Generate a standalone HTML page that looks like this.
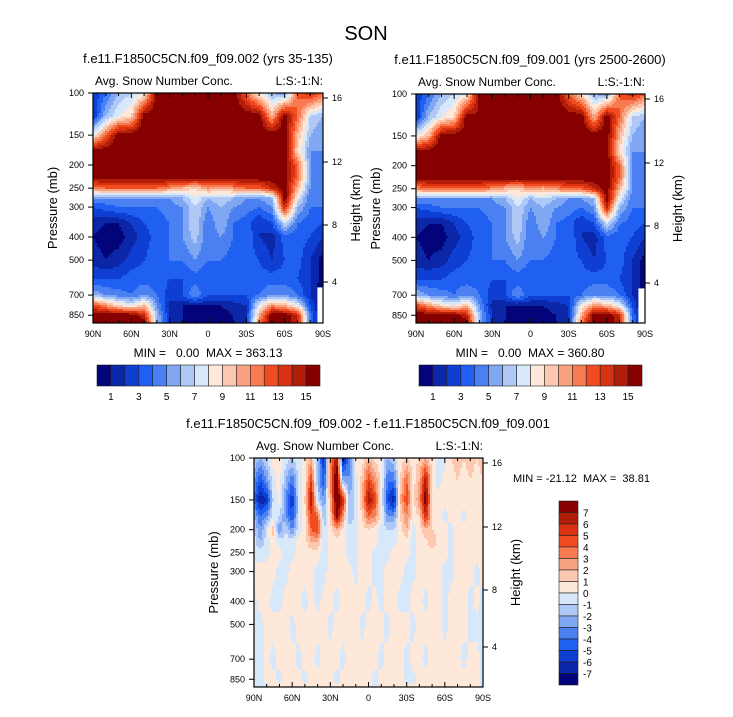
<!DOCTYPE html>
<html><head><meta charset="utf-8"><style>
body{margin:0;background:#fff;}
svg text{font-family:"Liberation Sans",Arial,sans-serif;fill:#000;white-space:pre;}
</style></head><body>
<svg id="s" width="733" height="712" xmlns="http://www.w3.org/2000/svg">
<rect width="733" height="712" fill="#fff"/>
<text x="366" y="40" font-size="20" text-anchor="middle">SON</text>
</svg>
<script>
// ---------- data ----------
const palette = ["#03037a","#0b26a6","#0f3fd2","#1f5ff2","#4a80f2","#80a8f2","#b0c8f6","#d8e8fb","#fde8d9","#fcc9b0","#f9a27f","#f87a50","#f04c20","#d93212","#b01e08","#870000"];
const latLabels = ["90N","60N","30N","0","30S","60S","90S"];
const pTicks = [100,150,200,250,300,400,500,700,850];
const hTicks = ["16","12","8","4"];
const hTickOffsets = [5,69,132,189];
const cbTopLabels = ["1","3","5","7","9","11","13","15"];
const cbDiffLabels = ["7","6","5","4","3","2","1","0","-1","-2","-3","-4","-5","-6","-7"];

const levels1 = [100,125,150,175,200,225,250,275,300,350,400,500,600,700,775,850,925];
const field1 = [
[2,4,6,7,8,16,16,16,16,16,16,16,12,8,6,5,12,14,12],
[2,6,8,9,16,16,16,16,16,16,16,16,16,16,10,16,12,7,6],
[8,12,16,16,16,16,16,16,16,16,16,16,16,16,16,16,10,6,5],
[16,16,16,16,16,16,16,16,16,16,16,16,16,16,16,16,9,5,5],
[16,16,16,16,16,16,16,16,16,16,16,16,16,16,16,16,12,5,4],
[16,16,16,16,16,16,16,16,16,16,16,16,16,16,16,16,12,5,4],
[11,12,12,12,12,12,11,10,9,11,10,11,12,12,14,16,10,5,4],
[5,5,5,5,5,5,5,6,8,6,7,6,5,5,6,16,8,4,4],
[3,3.5,4,4,4,4,4.5,5,7,5,6,5,4.5,4,5,14,6,4,4],
[1.5,1,1,2,3,3.5,4,5,7,4,6,4,3.5,2,3,7,4,3.5,3],
[1,0.5,0.5,1.5,2.5,3.5,4,5,6.5,4,5,4,4,2,1.5,3.5,3.5,3,2],
[1.5,1,1.5,2.5,3,3.5,4,4,5,4,4,3.5,3.5,3,2,3,3.5,2,0.5],
[3,3,3,3.5,3.5,3.5,3,3,3.5,3,3.5,3.5,3.5,3.5,3.5,3.5,3,2,0.5],
[6,5,4.5,4,5,4,2.5,3,5,3,3,3,3,4,5,5,4,2,-9],
[13,11,9,8,10,5,1.5,1,1,1,1,1.5,2,8,11,10,8,3,-9],
[16,16,16,16,14,6,2,1,0.5,0.5,0.5,1,2,10,16,16,14,4,-9],
[16,16,16,16,16,6,2,1,1,1,1,1,2,12,16,16,14,4,-9]
];
const field2 = field1.map(r=>r.slice());
field2[1][5]=15; field2[2][1]=10; field2[0][13]=9;

const levelsD = [100,125,150,175,200,225,250,300,400,500,700,850,925];
const fieldD = [
[-1,-2,-1,0.5,0.5,-0.5,-1,-0.5,0.5,2,-2,-6,3,7,-7,-3,0.5,0.5,2,0.5,0.5,-2,-1,0.5,1,0.5,1,2,0.5,-0.5,-0.5,1,1.5,1,1.5,1,1.5],
[-3,-5,-3,-0.5,0.5,-2,-4,-0.5,0.5,5,-2,-5,3,9,-2,-3,-0.5,1.5,5,3,0.5,-4,-4,1,4,0.5,2,7,0.5,-0.5,0.5,0.5,1,0.5,1,0.5,1],
[-4,-7,-6,-1,0.5,-3,-6,-1,1,7,-1,-3,2,9,6,-2,-0.5,2,7,5,0,-5,-7,2,5,0.5,3,8,0.5,0.5,0.5,0.5,0.5,0.5,1,0.5,1],
[-2,-4,-3,-0.5,-1,-3,-5,-1,0.5,5,4,-2,1,8,3,-2,-0.5,1,4,3,0.5,-3,-3,1,3,0.5,1,6,1,0.5,-0.5,0.5,0.5,-0.5,0.5,0.5,0.5],
[-1,-3,-0.5,1.5,-3,-1,-3,-0.5,0.5,4,5,-1,0.5,2,0.5,-0.5,-0.5,0.5,1,0.5,-0.5,-1,-1,0.5,2,-0.5,0.5,2,1,0.5,0.5,-0.5,0.5,0.5,0.5,0.5,0.5],
[-0.5,-2,-0.5,0.5,-0.5,-0.5,-0.5,0.5,0.5,2,2,-0.5,0.5,0.5,0.5,-0.5,-0.5,0.5,0.5,0.5,-0.5,-0.5,-0.5,0.5,0.5,-0.5,0.5,0.5,2,0.5,0.5,-0.5,0.5,0.5,0.5,0.5,0.5],
[-0.5,-0.5,-0.5,0.5,0.5,-0.5,-0.5,0.5,0.5,0.5,0.5,-0.5,0.5,0.5,0.5,-0.5,-0.5,0.5,0.5,-0.5,-0.5,-0.5,0.5,0.5,0.5,-0.5,0.5,0.5,0.5,0.5,0.5,-0.5,0.5,0.5,0.5,0.5,0.5],
[0.5,0.5,0.5,0.5,-0.5,-0.5,0.5,0.5,0.5,0.5,-0.5,-0.5,0.5,0.5,0.5,0.5,-0.5,0.5,0.5,-0.5,-0.5,0.5,0.5,0.5,-0.5,-0.5,0.5,0.5,0.5,0.5,-0.5,-0.5,0.5,0.5,0.5,-0.5,0.5],
[-0.5,0.5,0.5,-0.5,-0.5,0.5,0.5,0.5,-0.5,0.5,-0.5,0.5,0.5,-0.5,0.5,0.5,0.5,0.5,-0.5,0.5,-0.5,0.5,0.5,-0.5,-0.5,0.5,0.5,-0.5,0.5,0.5,-0.5,0.5,0.5,0.5,-0.5,0.5,-0.5],
[-0.5,-0.5,0.5,0.5,0.5,0.5,-0.5,0.5,0.5,0.5,0.5,0.5,-0.5,0.5,0.5,0.5,0.5,-0.5,0.5,0.5,0.5,-0.5,0.5,0.5,0.5,-0.5,0.5,0.5,0.5,0.5,-0.5,0.5,0.5,0.5,-0.5,-0.5,-0.5],
[-0.5,-0.5,0.5,-0.5,0.5,0.5,0.5,-0.5,0.5,0.5,-0.5,0.5,0.5,0.5,-0.5,0.5,0.5,0.5,0.5,0.5,-0.5,0.5,0.5,0.5,-0.5,0.5,0.5,-0.5,0.5,0.5,0.5,0.5,0.5,-0.5,0.5,0.5,-0.5],
[-0.5,-0.5,0.5,0.5,-0.5,0.5,0.5,0.5,-0.5,0.5,0.5,0.5,0.5,-0.5,0.5,0.5,0.5,0.5,0.5,-0.5,0.5,0.5,0.5,0.5,-0.5,-0.5,0.5,0.5,0.5,0.5,0.5,0.5,0.5,0.5,0.5,0.5,-0.5],
[-0.5,-0.5,-0.5,0.5,0.5,0.5,0.5,0.5,0.5,0.5,0.5,0.5,0.5,0.5,0.5,0.5,0.5,0.5,0.5,-0.5,0.5,0.5,0.5,0.5,0.5,0.5,0.5,0.5,0.5,0.5,0.5,0.5,0.5,0.5,0.5,0.5,-0.5]
];

// ---------- drawing ----------
const NS="http://www.w3.org/2000/svg";
const svg=document.getElementById('s');
function el(tag,attrs,parent){const e=document.createElementNS(NS,tag);for(const k in attrs)e.setAttribute(k,attrs[k]);(parent||svg).appendChild(e);return e;}
function txt(x,y,s,size,anchor,parent,extra){const t=el('text',Object.assign({x:x,y:y,'font-size':size,'text-anchor':anchor||'start'},extra||{}),parent);t.textContent=s;return t;}
const PBOT=916;
function yOfP(p,y0,h){return y0+(Math.log10(p)-2)/Math.log10(PBOT/100)*h;}

function sample(field,levels,cf,p){
  const lp=Math.log10(p);let r=0;
  while(r<levels.length-2&&Math.log10(levels[r+1])<lp)r++;
  let ft=(lp-Math.log10(levels[r]))/(Math.log10(levels[r+1])-Math.log10(levels[r]));
  ft=Math.max(0,Math.min(1,ft));
  const nc=field[0].length;let c=Math.min(nc-2,Math.floor(cf));const fc=Math.max(0,Math.min(1,cf-c));
  const a=field[r][c],b=field[r][c+1],d=field[r+1][c],e=field[r+1][c+1];
  if(a<-8||b<-8||d<-8||e<-8){const near=[[a,(1-fc)*(1-ft)],[b,fc*(1-ft)],[d,(1-fc)*ft],[e,fc*ft]].sort((x,y)=>y[1]-x[1])[0][0];if(near<-8)return null;}
  const v=(a<-8?0:a)*(1-fc)*(1-ft)+(b<-8?0:b)*fc*(1-ft)+(d<-8?0:d)*(1-fc)*ft+(e<-8?0:e)*fc*ft;
  return v;
}

function panel(x0,y0,w,h,field,levels,toIdx,title,name){
  const g=el('g',{});
  
  
  const step=2,nc=field[0].length;
  for(let yy=0;yy<h;yy+=step){
    const p=Math.pow(10,2+(yy+step/2)/h*Math.log10(PBOT/100));
    let runStart=0,runCol=null;
    const flush=(end)=>{ if(runCol!==null){const r=el('rect',{x:x0+runStart,y:y0+yy,width:end-runStart+0.4,height:Math.min(step,h-yy)+0.4,fill:runCol},g);
      
      } };
    for(let xx=0;xx<w;xx+=step){
      const cf=(xx+step/2)/w*(nc-1);
      const v=sample(field,levels,cf,p);
      const col=v===null?null:palette[Math.max(0,Math.min(15,toIdx(v)))];
      if(col!==runCol){flush(xx);runStart=xx;runCol=col;}
    }
    flush(w);
  }
  const fr=el('rect',{x:x0,y:y0,width:w,height:h,fill:'none',stroke:'#000','stroke-width':1.2},g);
  
  
  for(let lat=90;lat>=-90;lat-=10){
    const x=x0+(90-lat)/180*w;const major=lat%30===0;const L=major?5:3;
    el('line',{x1:x,y1:y0+h,x2:x,y2:y0+h-L,stroke:'#000'},g);
    el('line',{x1:x,y1:y0,x2:x,y2:y0+L,stroke:'#000'},g);
  }
  latLabels.forEach((s,i)=>{const t=txt(x0+i*w/6,y0+h+14,s,9,'middle',g);
    
    });
  pTicks.forEach(p=>{const y=yOfP(p,y0,h);el('line',{x1:x0,y1:y,x2:x0-5,y2:y,stroke:'#000'},g);
    const t=txt(x0-9,y+3,String(p),9,'end',g);
    
    });
  hTicks.forEach((s,i)=>{const y=y0+hTickOffsets[i];el('line',{x1:x0+w,y1:y,x2:x0+w+5,y2:y,stroke:'#000'},g);
    const t=txt(x0+w+9,y+3,s,9,'start',g);
    
    });
  const yl=txt(0,0,'Pressure (mb)',13,'middle',g,{transform:`translate(${x0-36},${y0+h/2}) rotate(-90)`});
  
  
  const hl=txt(0,0,'Height (km)',13,'middle',g,{transform:`translate(${x0+w+37},${y0+h/2}) rotate(-90)`});
  
  
  const st=txt(x0+2,y0-8,'Avg. Snow Number Conc.',12,'start',g);
  
  
  const lt=txt(x0+w,y0-8,'L:S:-1:N:',12,'end',g);
  
  
  const tt=txt(title[1],y0-30,title[0],13,'middle',g);
  
  
  return g;
}
const idxAbs=v=>Math.floor(v);
const idxDiff=v=>Math.floor(v)+8;
const g1=panel(93,93,230,230,field1,levels1,idxAbs,['f.e11.F1850C5CN.f09_f09.002 (yrs 35-135)',208],'panel-run-002');
const m1=txt(208,357,'MIN =   0.00  MAX = 363.13',12,'middle',g1);


const g2=panel(416,94,229,229,field2,levels1,idxAbs,['f.e11.F1850C5CN.f09_f09.001 (yrs 2500-2600)',530],'panel-run-001');
const m2=txt(530,357,'MIN =   0.00  MAX = 360.80',12,'middle',g2);


const g3=panel(254,458,229,229,fieldD,levelsD,idxDiff,['f.e11.F1850C5CN.f09_f09.002 - f.e11.F1850C5CN.f09_f09.001',368],'panel-difference');
const m3=txt(513,482,'MIN = -21.12  MAX =  38.81',11,'start',g3);



function hbar(x0,x1,y,name){
  const g=el('g',{});
  
  
  const bw=(x1-x0)/16;
  palette.forEach((c,i)=>{const r=el('rect',{x:x0+i*bw,y:y,width:bw,height:21,fill:c,stroke:'#222','stroke-width':0.6},g);
    
    });
  cbTopLabels.forEach((s,i)=>{const t=txt(x0+(2*i+1)*bw,y+35,s,10,'middle',g);
    
    });
}
hbar(97,320,365,'colorbar-run-002');
hbar(419,642,365,'colorbar-run-001');
(function(){
  const g=el('g',{});
  
  
  const x0=559,w=19,y0=501,y1=685,bh=(y1-y0)/16;
  palette.slice().reverse().forEach((c,i)=>{const r=el('rect',{x:x0,y:y0+i*bh,width:w,height:bh,fill:c,stroke:'#222','stroke-width':0.6},g);
    
    });
  cbDiffLabels.forEach((s,i)=>{const t=txt(x0+w+5,y0+(i+1)*bh+4,s,10,'start',g);
    
    });
})();
</script>
</body></html>
